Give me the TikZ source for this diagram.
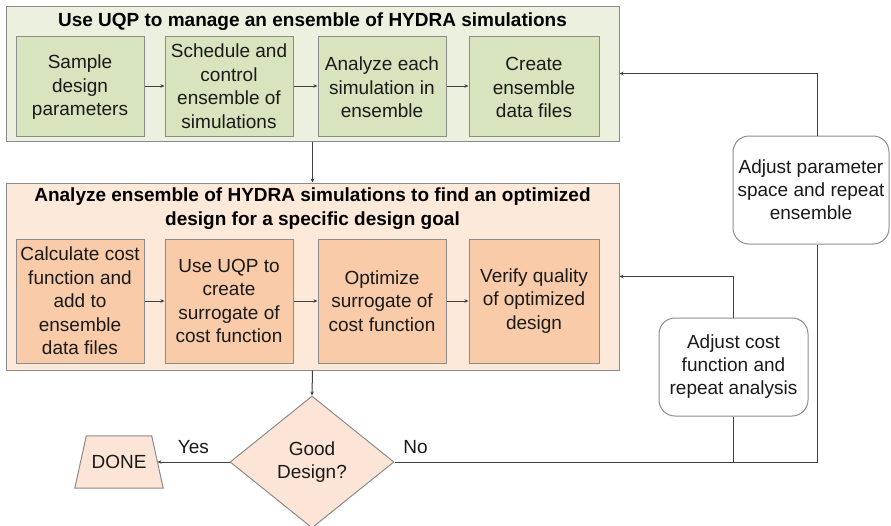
\documentclass[tikz,border=0pt]{standalone}
\usepackage{fontspec}
\setmainfont{Liberation Sans}
\usetikzlibrary{shapes.geometric,arrows.meta}
\definecolor{gout}{HTML}{EBF1DE}
\definecolor{gin}{HTML}{D7E4BD}
\definecolor{oout}{HTML}{FDE9D9}
\definecolor{oin}{HTML}{F9CBA8}
\definecolor{dia}{HTML}{FCE4D6}
\definecolor{bord}{HTML}{8C8C8C}
\definecolor{lnc}{HTML}{404040}
\definecolor{txt}{HTML}{1A1A1A}
\tikzset{
  outerbox/.style={draw=bord, line width=1pt, minimum width=613pt, inner sep=0pt},
  stepbox/.style={draw=bord, line width=1pt, align=center, minimum width=128pt, inner sep=0pt,
    font=\fontsize{19}{23.5}\selectfont, text=txt},
  gbox/.style={stepbox, fill=gin, minimum height=100pt},
  obox/.style={stepbox, fill=oin, minimum height=124pt},
  titletext/.style={font=\fontsize{19}{24}\selectfont\bfseries, align=center, text=black, inner sep=0pt},
  roundbox/.style={draw=bord, line width=1pt, rounded corners=16pt, fill=white, align=center, inner sep=0pt,
    font=\fontsize{19}{23}\selectfont, text=txt},
  conn/.style={draw=lnc, line width=1pt},
  arr/.style={conn, -{Stealth[length=4pt,width=3.5pt]}},
  lbl/.style={font=\fontsize{19}{23}\selectfont, text=txt, inner sep=0pt}
}
\begin{document}
\begin{tikzpicture}[x=1pt,y=-1pt]
\useasboundingbox[fill=white] (0,0) rectangle (891,525);
% top group
\node[outerbox, fill=gout, minimum height=135pt] (topbox) at (312.5,73.5) {};
\node[titletext] (toptitle) at (312.5,22) {Use UQP to manage an ensemble of HYDRA simulations};
\node[gbox] (s1) at (80,86) {\strut Sample\\design\\parameters};
\node[gbox] (s2) at (229,86) {Schedule and\\control\\ensemble of\\simulations};
\node[gbox] (s3) at (382,86) {\strut Analyze each\\simulation in\\ensemble};
\node[gbox, minimum width=130pt] (s4) at (534,86) {\strut Create\\ensemble\\data files};
% bottom group
\node[outerbox, fill=oout, minimum height=187pt] (botbox) at (312.5,276.5) {};
\node[titletext] (bottitle) at (312.5,209) {Analyze ensemble of HYDRA simulations to find an optimized\\design for a specific design goal};
\node[obox] (a1) at (80,301) {Calculate cost\\function and\\add to\\ensemble\\data files};
\node[obox] (a2) at (229,301) {Use UQP to\\create\\surrogate of\\cost function};
\node[obox] (a3) at (382,301) {Optimize\\surrogate of\\cost function};
\node[obox, minimum width=130pt] (a4) at (534,301) {Verify quality\\of optimized\\design};
% side boxes
\node[roundbox, minimum width=156pt, minimum height=108pt] (adjp) at (811,190) {Adjust parameter\\space and repeat\\ensemble};
\node[roundbox, minimum width=149pt, minimum height=98pt] (adjc) at (733.5,367) {Adjust cost\\function and\\repeat analysis};
% decision
\node[diamond, draw=bord, line width=1pt, fill=dia, minimum width=164pt, minimum height=132pt, inner sep=0pt,
  aspect=1.24, align=center, font=\fontsize{19}{23}\selectfont, text=txt] (dec) at (312,462) {Good\\Design?};
% DONE trapezoid
\node[minimum width=88pt, minimum height=52pt, inner sep=0pt] (done) at (119,462) {};
\filldraw[draw=bord, line width=1pt, fill=dia]
  ([xshift=11.5pt]done.north west) -- ([xshift=-11.5pt]done.north east) -- (done.south east) -- (done.south west) -- cycle;
\node[font=\fontsize{19}{23}\selectfont, text=txt, inner sep=0pt] (donetext) at (done) {DONE};
\coordinate (doneside) at ([xshift=-5.75pt]done.east);
% connectors
\draw[arr] (s1) -- (s2);
\draw[arr] (s2) -- (s3);
\draw[arr] (s3) -- (s4);
\draw[arr] (a1) -- (a2);
\draw[arr] (a2) -- (a3);
\draw[arr] (a3) -- (a4);
\draw[arr] (topbox.south) -- (botbox.north);
\draw[arr] (botbox.south) -- (dec.north);
\draw[arr] (dec.west) -- node[lbl, above=8pt] {Yes} (doneside);
\coordinate (jr) at (817,462);
\coordinate (jc) at (adjc.south |- jr);
\draw[conn] (dec.east) -- node[lbl, pos=0.05, above=8pt] {No} (jr) -- (jr |- adjp.south);
\draw[conn] (adjc.south) -- (jc);
\draw[arr] (jr |- adjp.north) |- (topbox.east);
\draw[arr] (adjc.north) |- (botbox.east);
\end{tikzpicture}
\end{document}
